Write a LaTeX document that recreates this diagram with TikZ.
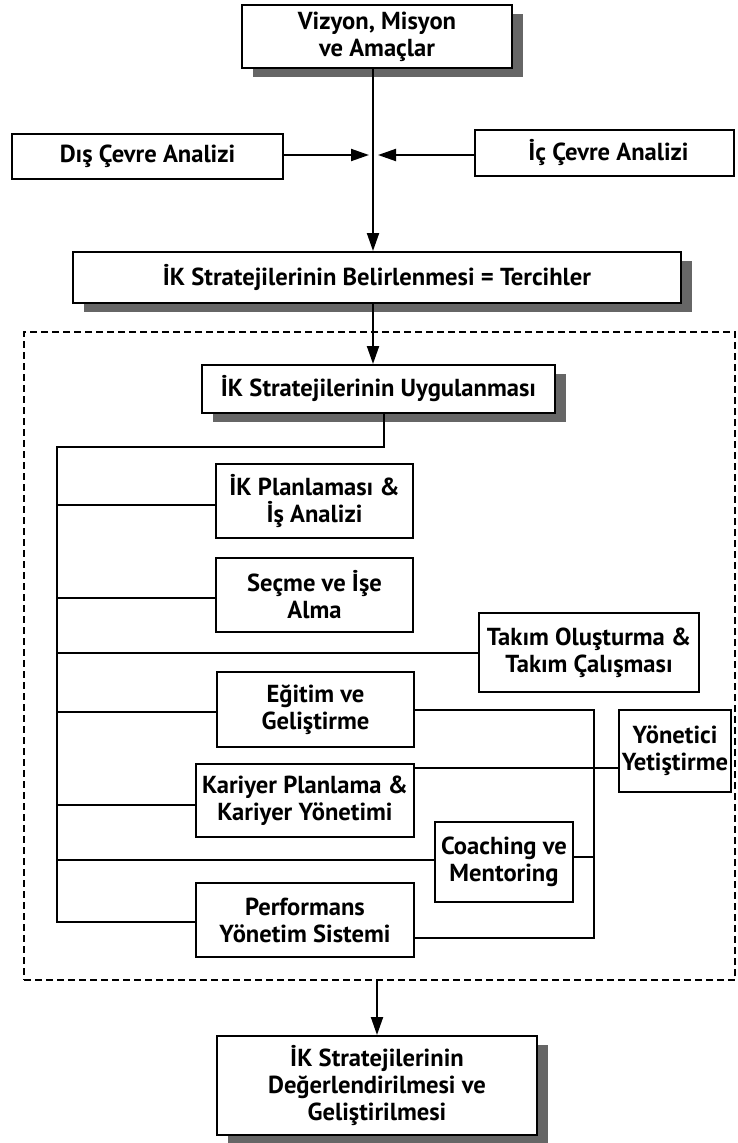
\documentclass[tikz,border=0pt]{standalone}
\usepackage{fontspec}
\setsansfont{PT Sans}
\usetikzlibrary{arrows.meta,shadows}

\tikzset{
  box/.style={draw, line width=2pt, fill=white, align=center, inner sep=1pt,
    font={\sffamily\bfseries\fontsize{24.6}{27}\selectfont}},
  shade box/.style={box, drop shadow={shadow xshift=11pt, shadow yshift=-9pt,
    fill=black!60, opacity=1}},
  link/.style={line width=2pt},
  arr/.style={line width=2pt, -{Triangle[length=18pt,width=12pt]}},
  frame/.style={draw, line width=1.5pt, dash pattern=on 7pt off 4pt, inner sep=0pt}
}

\begin{document}
\begin{tikzpicture}[x=1pt, y=-1pt]
\useasboundingbox (0,0) rectangle (737,1143);

% group frame around the implementation stage
\node[frame, minimum width=711pt, minimum height=648pt] (grp) at (379.5,656) {};

% strategy formulation
\node[shade box, minimum width=270pt, minimum height=63pt] (viz) at (377,36.5) {Vizyon, Misyon\\ve Amaçlar};
\node[box, minimum width=271pt, minimum height=45pt] (dis) at (147.5,156.5) {Dış Çevre Analizi};
\node[box, minimum width=259pt, minimum height=46pt] (ic) at (604.5,153) {\hspace{8pt}İç Çevre Analizi};
\node[shade box, minimum width=608pt, minimum height=51pt] (bel) at (377,277.5) {İK Stratejilerinin Belirlenmesi = Tercihler};

% implementation
\node[shade box, minimum width=353pt, minimum height=48pt] (uyg) at (378.5,389) {İK Stratejilerinin Uygulanması};
\node[box, minimum width=197pt, minimum height=74pt] (plan) at (314.5,501) {İK Planlaması \&\\İş Analizi};
\node[box, minimum width=197pt, minimum height=74pt] (secme) at (314.5,595) {Seçme ve İşe\\Alma};
\node[box, minimum width=220pt, minimum height=79pt] (takim) at (589,652.5) {Takım Oluşturma \&\\Takım Çalışması};
\node[box, minimum width=197pt, minimum height=75pt] (egitim) at (315.5,709.5) {Eğitim ve\\Geliştirme};
\node[box, minimum width=112pt, minimum height=82pt, inner xsep=0pt] (yon) at (675,751) {Yönetici\\\makebox[104pt]{Yetiştirme}};
\node[box, minimum width=218pt, minimum height=73pt] (kariyer) at (305,800.5) {Kariyer Planlama \&\\Kariyer Yönetimi};
\node[box, minimum width=138pt, minimum height=80pt, inner xsep=0pt] (coach) at (504,862) {\makebox[130pt]{Coaching ve}\\Mentoring};
\node[box, minimum width=218pt, minimum height=74pt] (perf) at (305,920) {Performans\\Yönetim Sistemi};

% evaluation
\node[shade box, minimum width=320pt, minimum height=99pt] (deg) at (377,1085.5) {İK Stratejilerinin\\Değerlendirilmesi ve\\Geliştirilmesi};

% environment analyses feed into the strategy choice
\coordinate (meet) at (373,155);
\coordinate (inL) at (369,155);
\coordinate (inR) at (378,155);
\draw[arr] (viz.south -| meet) -- (bel.north -| meet);
\draw[arr] (dis.east |- meet) -- (inL);
\draw[arr] (ic.west |- meet) -- (inR);
\draw[arr] (bel.south -| meet) -- (uyg.north -| meet);

% left trunk
\coordinate (split) at (384,447);
\coordinate (trunk) at (57,447);
\draw[link] (uyg.south -| split) -- (split) -- (trunk) |- ([yshift=-2pt]perf.west);
\draw[link] (trunk |- plan.west) ++(0,4) -- ([yshift=-4pt]plan.west);
\draw[link] (trunk |- secme.west) ++(0,3) -- ([yshift=-3pt]secme.west);
\draw[link] (trunk |- takim.west) -- (takim.west);
\draw[link] (trunk |- egitim.west) ++(0,2) -- ([yshift=-2pt]egitim.west);
\draw[link] (trunk |- kariyer.west) ++(0,4.5) -- ([yshift=-4.5pt]kariyer.west);
\draw[link] (trunk |- coach.west) ++(0,-2) -- ([yshift=2pt]coach.west);

% right bus towards management development
\coordinate (bus) at (594,710);
\coordinate (pr) at ([yshift=-18pt]perf.east);
\coordinate (cr) at ([yshift=5pt]coach.east);
\coordinate (kr) at ([yshift=32.5pt]kariyer.east);
\draw[link] (egitim.east |- bus) -- (bus) -- (bus |- pr) -- (pr);
\draw[link] (cr) -- (cr -| bus);
\draw[link] (kr) -- (kr -| yon.west);

% to evaluation
\draw[arr] (grp.south -| deg.north) -- (deg.north);
\end{tikzpicture}
\end{document}
